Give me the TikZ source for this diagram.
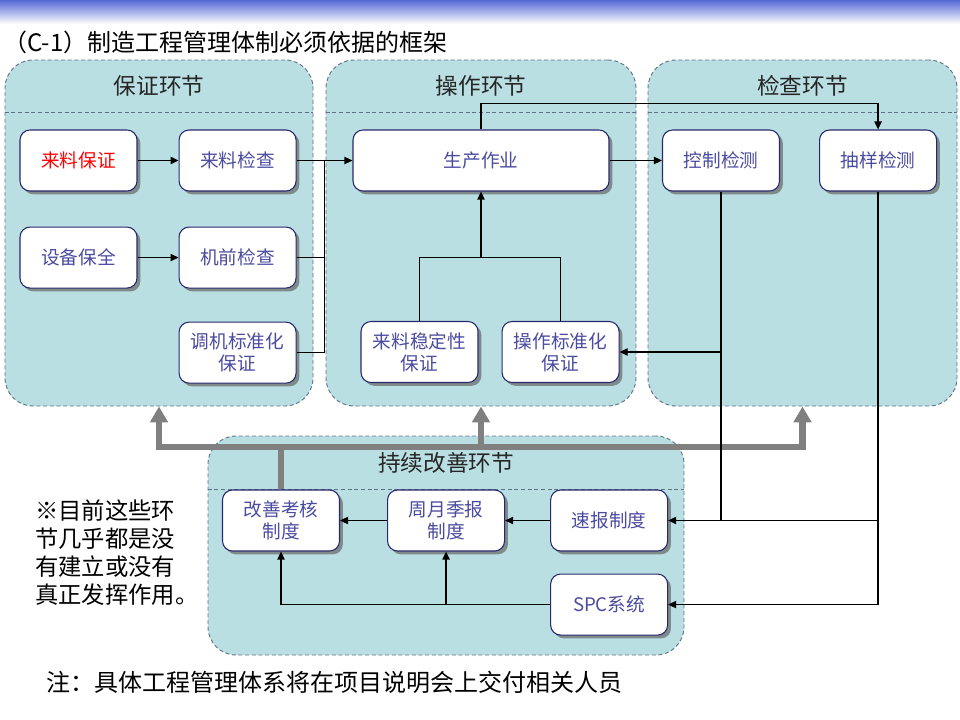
\documentclass[tikz,border=0pt]{standalone}
\usepackage{fontspec}
\setmainfont{Noto Sans CJK SC}
\usepackage{tikz}
\usetikzlibrary{arrows.meta,positioning,calc,shadows}
\definecolor{pteal}{RGB}{186,223,227}
\definecolor{pedge}{RGB}{95,115,135}
\definecolor{bnavy}{RGB}{40,40,110}
\definecolor{btext}{RGB}{75,75,160}
\definecolor{bgray}{RGB}{128,128,128}
\definecolor{topblue}{RGB}{85,105,215}

\begin{document}
\begin{tikzpicture}[x=0.75pt,y=-0.75pt,
  panel/.style={draw=pedge,dash pattern=on 3pt off 2pt,line width=0.7pt,fill=pteal,rounded corners=21pt,minimum height=259.5pt,inner sep=0pt},
  hline/.style={draw=pedge,dash pattern=on 3pt off 2pt,line width=0.7pt},
  head/.style={font=\fontsize{17}{20}\selectfont,text=black!85},
  box/.style={draw=bnavy,fill=white,line width=0.8pt,rounded corners=7.5pt,minimum width=87.75pt,minimum height=45.75pt,align=center,inner sep=1pt,text=btext,font=\fontsize{14}{16.5}\selectfont,drop shadow={shadow xshift=2.5pt,shadow yshift=-2.5pt,fill=black!60,opacity=0.7}},
  link/.style={line width=0.9pt,black},
  arr/.style={link,-{Triangle[length=6pt,width=5.5pt]}},
  bigline/.style={line width=5pt,bgray},
  bigarr/.style={bigline,-{Triangle[length=12pt,width=13pt]}}]
\useasboundingbox (0,0) rectangle (960,720);
\shade[top color=topblue,bottom color=white] (0,0) rectangle (960,24);
\node[anchor=west,inner sep=0pt,font=\fontsize{18}{20}\selectfont] (ttl) at (3,42) {（C-1）制造工程管理体制必须依据的框架};

\node[panel,minimum width=231pt] (pbz) at (159,233) {};
\node[panel,minimum width=232.5pt] (pcz) at (481,233) {};
\node[panel,minimum width=231.75pt] (pjc) at (802.5,233) {};
\node[panel,minimum width=357pt,minimum height=164.25pt] (pgs) at (446,545.5) {};
\coordinate (h1) at (0,112);
\coordinate (h2) at (0,489);
\foreach \p in {pbz,pcz,pjc} \draw[hline] (\p.west |- h1) -- (\p.east |- h1);
\draw[hline] (pgs.west |- h2) -- (pgs.east |- h2);
\node[head] at ($(pbz.north)+(0,26)$) {保证环节};
\node[head] at ($(pcz.north)+(0,26)$) {操作环节};
\node[head] at ($(pjc.north)+(0,26)$) {检查环节};
\node[head] at ($(pgs.north)+(0,27)$) {持续改善环节};

\node[box,text=red] (llbz) at (78.5,160.5) {来料保证};
\node[box,right=30.75pt of llbz] (lljc) {来料检查};
\node[box,below=26.25pt of llbz] (sbbq) {设备保全};
\node[box,right=30.75pt of sbbq] (jqjc) {机前检查};
\node[box,below=24.75pt of jqjc] (tjbz) {调机标准化\\保证};
\node[box,minimum width=192pt] (sczy) at (481,160.5) {生产作业};
\node[box] (llwd) at (419.5,352) {来料稳定性\\保证};
\node[box,right=17.25pt of llwd] (czbz) {操作标准化\\保证};
\node[box] (kzjc) at (721,160.5) {控制检测};
\node[box,right=29.25pt of kzjc] (cyjc) {抽样检测};
\node[box] (gskh) at (281,520.5) {改善考核\\制度};
\node[box,right=35.25pt of gskh] (zyjb) {周月季报\\制度};
\node[box,right=33.75pt of zyjb] (sbzd) {速报制度};
\node[box,below=16.5pt of sbzd] (spc) {SPC系统};

\node[anchor=west,align=left,inner sep=0pt,font=\fontsize{17.5}{21}\selectfont] (note) at (35,553) {※目前这些环\\节几乎都是没\\有建立或没有\\真正发挥作用。};
\node[font=\fontsize{18}{20}\selectfont] (foot) at (334,682) {注：具体工程管理体系将在项目说明会上交付相关人员};

\coordinate (bus) at (0,447);
\draw[bigline] (gskh.north) -- (gskh.north |- bus);
\draw[bigline,line join=miter,{Triangle[length=12pt,width=13pt]}-{Triangle[length=12pt,width=13pt]}] (pbz.south) -- (pbz.south |- bus) -- (pjc.south |- bus) -- (pjc.south);
\draw[bigarr] (pcz.south |- bus) -- (pcz.south);

\coordinate (mx) at ($(lljc.east)!.5!(sczy.west)$);
\coordinate (jn) at (sczy.south |- jqjc.east);
\draw[arr] (llbz) -- (lljc);
\draw[arr] (sbbq) -- (jqjc);
\draw[arr] (lljc) -- (sczy);
\draw[link] (jqjc.east) -| (mx);
\draw[link] (tjbz.east) -| (mx);
\draw[link] (llwd.north) |- (jn) -| (czbz.north);
\draw[arr] (jn) -- (sczy.south);
\draw[arr] (sczy) -- (kzjc);
\draw[arr] (sczy.north) -- ++(0,-26) -| (cyjc.north);
\draw[arr] (kzjc.south) |- (sbzd.east);
\draw[arr] (kzjc.south |- czbz.east) -- (czbz.east);
\draw[arr] (cyjc.south) |- (spc.east);
\draw[link] (cyjc.south |- sbzd.east) -- (kzjc.south |- sbzd.east);
\draw[arr] (sbzd) -- (zyjb);
\draw[arr] (zyjb) -- (gskh);
\draw[arr] (spc.west) -| (gskh.south);
\draw[arr] (zyjb.south |- spc.west) -- (zyjb.south);
\end{tikzpicture}
\end{document}
